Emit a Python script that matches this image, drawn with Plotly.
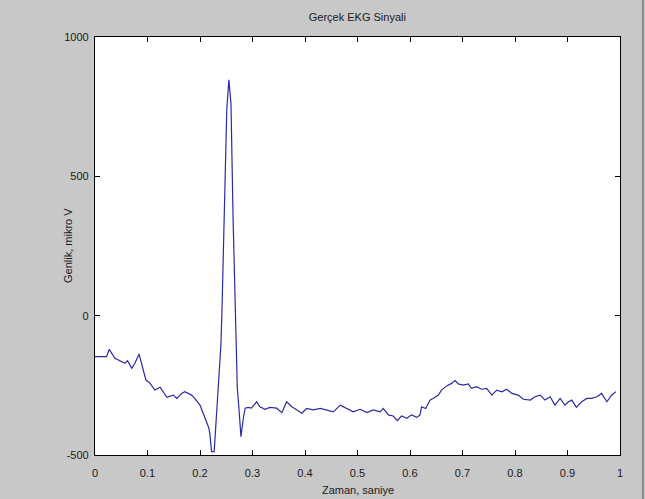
import plotly.graph_objects as go

# Time (s) and amplitude (micro V)
zaman = [0.000, 0.022, 0.027, 0.038, 0.057, 0.062, 0.070, 0.076, 0.084, 0.091,
         0.097, 0.105, 0.114, 0.124, 0.130, 0.137, 0.149, 0.156, 0.165, 0.171,
         0.184, 0.190, 0.200, 0.206, 0.213, 0.217, 0.219, 0.222, 0.227, 0.230,
         0.235, 0.237, 0.240, 0.242, 0.245, 0.248, 0.251, 0.255, 0.259, 0.263,
         0.268, 0.271, 0.274, 0.276, 0.278, 0.283, 0.286, 0.292, 0.298, 0.308,
         0.314, 0.324, 0.333, 0.346, 0.356, 0.365, 0.375, 0.384, 0.394, 0.403,
         0.416, 0.429, 0.441, 0.454, 0.467, 0.479, 0.492, 0.505, 0.518, 0.530,
         0.543, 0.549, 0.559, 0.568, 0.576, 0.584, 0.594, 0.603, 0.613, 0.619,
         0.622, 0.630, 0.638, 0.644, 0.654, 0.660, 0.670, 0.679, 0.686, 0.692,
         0.702, 0.711, 0.717, 0.727, 0.736, 0.746, 0.756, 0.765, 0.775, 0.784,
         0.794, 0.806, 0.816, 0.829, 0.838, 0.848, 0.857, 0.867, 0.876, 0.886,
         0.895, 0.902, 0.908, 0.917, 0.927, 0.937, 0.946, 0.956, 0.965, 0.975,
         0.984, 0.992]
genlik = [-147, -147, -121, -153, -171, -162, -189, -171, -138, -185,
          -231, -243, -267, -257, -273, -293, -285, -297, -279, -273,
          -285, -297, -321, -350, -386, -404, -428, -488, -488, -398,
          -279, -183, -100, 30, 250, 450, 740, 846, 760, 350,
          -77, -259, -328, -410, -434, -362, -332, -329, -332, -309,
          -327, -336, -329, -332, -348, -309, -327, -338, -350, -333,
          -338, -333, -338, -345, -321, -333, -345, -336, -348, -338,
          -345, -333, -356, -360, -377, -360, -368, -356, -365, -356,
          -327, -333, -303, -297, -285, -267, -252, -243, -233, -245,
          -249, -245, -261, -255, -264, -261, -285, -267, -273, -264,
          -279, -285, -300, -303, -291, -285, -303, -291, -321, -297,
          -321, -309, -303, -329, -309, -297, -297, -291, -279, -309,
          -285, -273]

x_ticks = [0, 0.1, 0.2, 0.3, 0.4, 0.5, 0.6, 0.7, 0.8, 0.9, 1]
x_ticklabels = ["0", "0.1", "0.2", "0.3", "0.4", "0.5", "0.6", "0.7", "0.8", "0.9", "1"]
y_ticks = [-500, 0, 500, 1000]
y_ticklabels = ["-500", "0", "500", "1000"]

font_family = "Liberation Sans, Arial, sans-serif"
text_font = dict(family=font_family, size=11, color="#1a1a1a")

fig = go.Figure()
fig.add_trace(go.Scatter(x=zaman, y=genlik, mode="lines",
                         line=dict(color="#2a2aa8", width=1.2),
                         showlegend=False, hoverinfo="skip"))

axis_common = dict(showline=True, linecolor="#000000", linewidth=1.2,
                   mirror="ticks", ticks="inside", ticklen=5, tickcolor="#000000",
                   showgrid=False, zeroline=False, tickfont=text_font,
                   automargin=False)

fig.update_layout(
    width=645, height=499,
    margin=dict(l=95, r=25, t=37, b=44),
    paper_bgcolor="#c8c8c8",
    plot_bgcolor="#ffffff",
    title=dict(text="Gerçek EKG Sinyali", x=0.554, xanchor="center",
               y=0.965, yanchor="middle", font=text_font),
    xaxis=dict(range=[0, 1], tickvals=x_ticks, ticktext=x_ticklabels,
               ticklabelstandoff=8, **axis_common),
    yaxis=dict(range=[-500, 1000], tickvals=y_ticks, ticktext=y_ticklabels,
               ticklabelstandoff=3, **axis_common),
)

# axis titles placed as in the reference
fig.add_annotation(text="Genlik, mikro V", xref="paper", yref="paper",
                   x=-0.0514, y=0.5, xanchor="center", yanchor="middle",
                   textangle=-90, showarrow=False, font=text_font)
fig.add_annotation(text="Zaman, saniye", xref="paper", yref="paper",
                   x=0.5, y=-0.0837, xanchor="center", yanchor="middle",
                   showarrow=False, font=text_font)

# window frame decoration: darker right edge
fig.add_shape(type="line", xref="paper", yref="paper",
              x0=1.0438, x1=1.0438, y0=-0.11, y1=1.09,
              line=dict(color="#8a8a8a", width=2))

fig.write_html("out.html")
